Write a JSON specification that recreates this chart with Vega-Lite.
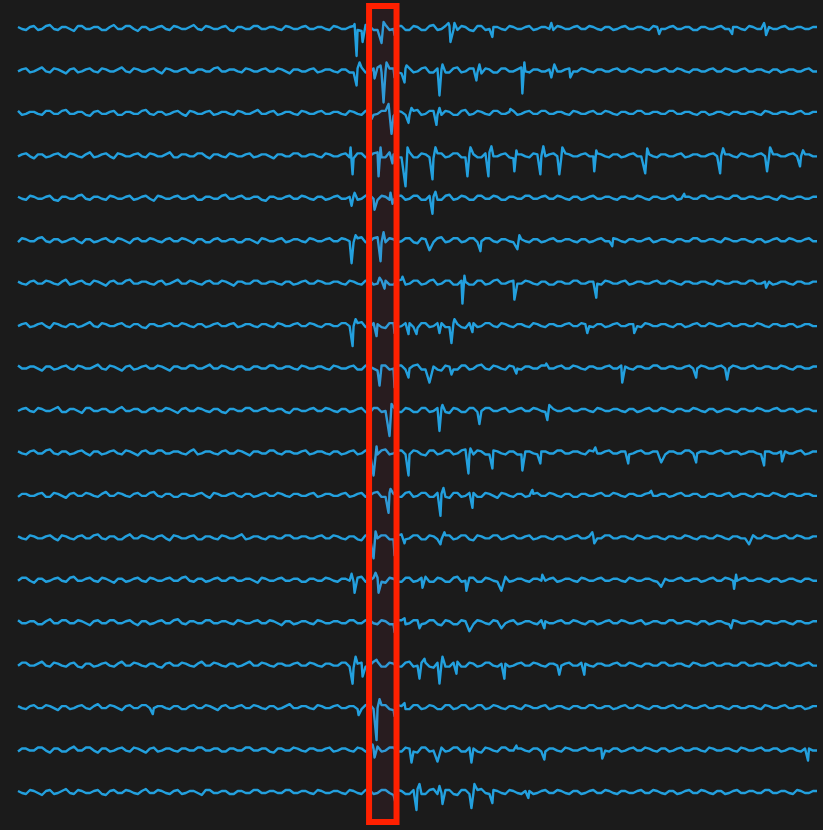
{
"$schema":"https://vega.github.io/schema/vega-lite/v6.json",
"width":799,"height":816,
"autosize":{"type":"none"},
"padding":{"left":18,"top":6,"right":6,"bottom":8},
"background":"#1b1b1b",
"config":{"view":{"stroke":null}},
"layer":[
{"data":{"values":[
{"t":0,"a":1,"b":-1,"c":2,"d":-1,"e":1,"f":-2,"g":1,"h":-1,"i":2,"j":-1,"k":1,"l":-2,"m":1,"n":-1,"o":2,"p":-1,"q":1,"r":-2,"s":1},
{"t":8,"a":-2,"b":2,"c":-1,"d":2,"e":-2,"f":1,"g":-2,"h":2,"i":-1,"j":2,"k":-2,"l":1,"m":-2,"n":2,"o":-1,"p":2,"q":-2,"r":1,"s":-2},
{"t":16,"a":2,"b":-1,"c":1,"d":-3,"e":1,"f":-1,"g":2,"h":-1,"i":1,"j":-2,"k":2,"l":-1,"m":1,"n":-3,"o":1,"p":-1,"q":2,"r":-1,"s":1},
{"t":24,"a":-1,"b":3,"c":-2,"d":1,"e":-1,"f":3,"g":-1,"h":2,"i":-3,"j":1,"k":-1,"l":2,"m":-1,"n":1,"o":-2,"p":3,"q":-1,"r":2,"s":-3},
{"t":32,"a":3,"b":-2,"c":2,"d":-1,"e":2,"f":-2,"g":1,"h":-3,"i":1,"j":-1,"k":3,"l":-2,"m":2,"n":-1,"o":3,"p":-2,"q":1,"r":-3,"s":2},
{"t":40,"a":-2,"b":1,"c":-1,"d":2,"e":-3,"f":1,"g":-2,"h":1,"i":-1,"j":3,"k":-2,"l":1,"m":-3,"n":2,"o":-1,"p":1,"q":-3,"r":1,"s":-1},
{"t":48,"a":1,"b":-3,"c":3,"d":-2,"e":1,"f":-1,"g":3,"h":-2,"i":2,"j":-2,"k":1,"l":-3,"m":1,"n":-2,"o":2,"p":-2,"q":1,"r":-2,"s":3},
{"t":56,"a":-3,"b":2,"c":-1,"d":1,"e":-1,"f":2,"g":-1,"h":1,"i":-2,"j":1,"k":-1,"l":2,"m":-2,"n":3,"o":-1,"p":2,"q":-1,"r":3,"s":-2},
{"t":64,"a":2,"b":-1,"c":1,"d":-2,"e":3,"f":-3,"g":2,"h":-1,"i":1,"j":-3,"k":2,"l":-1,"m":2,"n":-1,"o":1,"p":-3,"q":2,"r":-1,"s":1},
{"t":72,"a":-1,"b":2,"c":-3,"d":3,"e":-2,"f":1,"g":-2,"h":3,"i":-1,"j":2,"k":-3,"l":1,"m":-1,"n":2,"o":-3,"p":1,"q":-2,"r":2,"s":-1},
{"t":80,"a":1,"b":-2,"c":2,"d":-1,"e":1,"f":-1,"g":1,"h":-2,"i":3,"j":-1,"k":1,"l":-2,"m":3,"n":-2,"o":2,"p":-1,"q":3,"r":-3,"s":2},
{"t":88,"a":-2,"b":1,"c":-1,"d":2,"e":-2,"f":2,"g":-3,"h":1,"i":-2,"j":1,"k":-1,"l":3,"m":-2,"n":1,"o":-1,"p":2,"q":-1,"r":1,"s":-3},
{"t":96,"a":3,"b":-1,"c":2,"d":-3,"e":1,"f":-2,"g":2,"h":-1,"i":1,"j":-2,"k":2,"l":-1,"m":1,"n":-3,"o":2,"p":-2,"q":1,"r":-1,"s":2},
{"t":104,"a":-1,"b":3,"c":-2,"d":1,"e":-1,"f":1,"g":-1,"h":2,"i":-3,"j":3,"k":-2,"l":1,"m":-2,"n":1,"o":-1,"p":3,"q":-3,"r":2,"s":-1},
{"t":112,"a":2,"b":-2,"c":1,"d":-1,"e":2,"f":-3,"g":3,"h":-2,"i":2,"j":-1,"k":1,"l":-2,"m":3,"n":-1,"o":2,"p":-1,"q":2,"r":-2,"s":1},
{"t":120,"a":-3,"b":1,"c":-1,"d":2,"e":-1,"f":2,"g":-1,"h":1,"i":-1,"j":1,"k":-3,"l":2,"m":-1,"n":2,"o":-3,"p":1,"q":-1,"r":1,"s":-2},
{"t":128,"a":1,"b":-1,"c":3,"d":-2,"e":2,"f":-1,"g":1,"h":-3,"i":2,"j":-2,"k":2,"l":-1,"m":1,"n":-2,"o":1,"p":-2,"q":2,"r":-3,"s":3},
{"t":136,"a":-1,"b":2,"c":-2,"d":1,"e":-3,"f":1,"g":-2,"h":1,"i":-1,"j":2,"k":-1,"l":3,"m":-2,"n":1,"o":-1,"p":1,"q":-1,"r":2,"s":-1},
{"t":144,"a":2,"b":-3,"c":1,"d":-1,"e":1,"f":-2,"g":2,"h":-1,"i":1,"j":-1,"k":2,"l":-2,"m":2,"n":-1,"o":2,"p":-3,"q":1,"r":-1,"s":1},
{"t":152,"a":-2,"b":1,"c":-1,"d":3,"e":-1,"f":2,"g":-1,"h":2,"i":-3,"j":1,"k":-1,"l":1,"m":-3,"n":2,"o":-1,"p":2,"q":-2,"r":1,"s":-2},
{"t":160,"a":1,"b":-1,"c":2,"d":-2,"e":2,"f":-1,"g":3,"h":-1,"i":1,"j":-3,"k":1,"l":-2,"m":1,"n":-1,"o":3,"p":-1,"q":1,"r":-2,"s":2},
{"t":168,"a":-1,"b":2,"c":-3,"d":1,"e":-1,"f":1,"g":-1,"h":1,"i":-1,"j":2,"k":-2,"l":1,"m":-1,"n":3,"o":-2,"p":1,"q":-2,"r":1,"s":-1},
{"t":176,"a":3,"b":-2,"c":1,"d":-1,"e":2,"f":-3,"g":1,"h":-2,"i":2,"j":-1,"k":3,"l":-1,"m":2,"n":-2,"o":1,"p":-2,"q":2,"r":-1,"s":1},
{"t":184,"a":-2,"b":1,"c":-1,"d":2,"e":-2,"f":1,"g":-2,"h":1,"i":-1,"j":1,"k":-1,"l":2,"m":-2,"n":1,"o":-1,"p":3,"q":-1,"r":2,"s":-3},
{"t":192,"a":1,"b":-1,"c":2,"d":-3,"e":1,"f":-2,"g":2,"h":-1,"i":3,"j":-2,"k":1,"l":-3,"m":1,"n":-1,"o":2,"p":-1,"q":1,"r":-1,"s":2},
{"t":200,"a":-1,"b":3,"c":-1,"d":1,"e":-1,"f":2,"g":-1,"h":2,"i":-1,"j":1,"k":-2,"l":1,"m":-2,"n":2,"o":-1,"p":1,"q":-3,"r":1,"s":-1},
{"t":208,"a":2,"b":-1,"c":1,"d":-2,"e":3,"f":-1,"g":1,"h":-1,"i":1,"j":-3,"k":2,"l":-1,"m":1,"n":-1,"o":1,"p":-2,"q":2,"r":-2,"s":1},
{"t":216,"a":-3,"b":1,"c":-2,"d":1,"e":-1,"f":1,"g":-3,"h":2,"i":-2,"j":1,"k":-1,"l":2,"m":-1,"n":2,"o":-2,"p":1,"q":-1,"r":1,"s":-2},
{"t":224,"a":1,"b":-2,"c":1,"d":-1,"e":2,"f":-2,"g":1,"h":-1,"i":1,"j":-1,"k":1,"l":-2,"m":3,"n":-1,"o":1,"p":-1,"q":2,"r":-1,"s":1},
{"t":232,"a":-1,"b":1,"c":-1,"d":2,"e":-1,"f":1,"g":-1,"h":1,"i":-2,"j":2,"k":-3,"l":1,"m":-1,"n":1,"o":-1,"p":3,"q":-1,"r":2,"s":-1},
{"t":240,"a":2,"b":-1,"c":3,"d":-1,"e":1,"f":-3,"g":2,"h":-2,"i":1,"j":-1,"k":1,"l":-1,"m":1,"n":-3,"o":2,"p":-1,"q":1,"r":-1,"s":2},
{"t":248,"a":-1,"b":2,"c":-1,"d":1,"e":-3,"f":1,"g":-1,"h":1,"i":-1,"j":2,"k":-1,"l":2,"m":-2,"n":1,"o":-1,"p":1,"q":-2,"r":1,"s":-1},
{"t":256,"a":1,"b":-1,"c":2,"d":-3,"e":1,"f":-1,"g":1,"h":-2,"i":2,"j":-1,"k":2,"l":-1,"m":1,"n":-1,"o":1,"p":-2,"q":1,"r":-3,"s":1},
{"t":264,"a":-2,"b":1,"c":-1,"d":1,"e":-1,"f":2,"g":-2,"h":1,"i":-1,"j":1,"k":-2,"l":1,"m":-1,"n":2,"o":-3,"p":1,"q":-1,"r":1,"s":-1},
{"t":272,"a":1,"b":-3,"c":1,"d":-1,"e":2,"f":-1,"g":1,"h":-1,"i":1,"j":-3,"k":1,"l":-2,"m":2,"n":-1,"o":1,"p":-1,"q":3,"r":-1,"s":2},
{"t":280,"a":-1,"b":1,"c":-2,"d":2,"e":-1,"f":1,"g":-1,"h":2,"i":-2,"j":1,"k":-1,"l":1,"m":-1,"n":1,"o":-1,"p":2,"q":-1,"r":1,"s":-1},
{"t":288,"a":2,"b":-1,"c":1,"d":-1,"e":1,"f":-2,"g":2,"h":-1,"i":1,"j":-1,"k":2,"l":-1,"m":1,"n":-2,"o":1,"p":-1,"q":1,"r":-2,"s":1},
{"t":296,"a":-1,"b":2,"c":-1,"d":1,"e":-2,"f":1,"g":-1,"h":1,"i":-1,"j":2,"k":-1,"l":2,"m":-1,"n":1,"o":-2,"p":1,"q":-2,"r":1,"s":-2},
{"t":304,"a":1,"b":-1,"c":2,"d":-2,"e":1,"f":-1,"g":1,"h":-2,"i":1,"j":-1,"k":1,"l":-1,"m":2,"n":-1,"o":1,"p":-2,"q":1,"r":-1,"s":1},
{"t":312,"a":-2,"b":1,"c":-1,"d":1,"e":-1,"f":2,"g":-1,"h":1,"i":-2,"j":1,"k":-2,"l":1,"m":-1,"n":1,"o":-1,"p":1,"q":-1,"r":2,"s":-1},
{"t":320,"a":1,"b":-2,"c":1,"d":-1,"e":2,"f":-1,"g":1,"h":-1,"i":1,"j":-2,"k":1,"l":-1,"m":1,"n":-2,"o":1,"p":-1,"q":2,"r":-1,"s":1},
{"t":328,"a":-1,"b":1,"c":-2,"d":2,"e":-1,"f":1,"g":-2,"h":2,"i":-1,"j":1,"k":-1,"l":2,"m":-2,"n":1,"o":-1,"p":2,"q":-1,"r":1,"s":-2},
{"t":336,"a":2,"b":-2,"c":1,"d":-3,"e":2,"f":-2,"g":1,"h":-1,"i":2,"j":-1,"k":2,"l":-1,"m":1,"n":-2,"o":2,"p":-3,"q":1,"r":-2,"s":1},
{"t":344,"a":-3,"b":3,"c":-2,"d":2,"e":-1,"f":3,"g":-2,"h":3,"i":-2,"j":2,"k":-1,"l":2,"m":-3,"n":3,"o":-1,"p":2,"q":-2,"r":1,"s":-2},
{"t":352,"a":2,"b":-2,"c":3,"d":-1,"e":3,"f":-2,"g":2,"h":-2,"i":1,"j":-3,"k":2,"l":-1,"m":2,"n":-1,"o":2,"p":-1,"q":3,"r":-2,"s":2},
{"t":360,"a":-2,"b":3,"c":-1,"d":3,"e":-2,"f":3,"g":-1,"h":1,"i":-3,"j":2,"k":-2,"l":3,"m":-1,"n":2,"o":-2,"p":3,"q":-1,"r":3,"s":-1},
{"t":368,"a":3,"b":-1,"c":2,"d":-2,"e":1,"f":-2,"g":2,"h":-3,"i":2,"j":-1,"k":3,"l":-2,"m":2,"n":-3,"o":1,"p":-2,"q":2,"r":-1,"s":2},
{"t":376,"a":-1,"b":2,"c":-3,"d":1,"e":-2,"f":1,"g":-2,"h":2,"i":-1,"j":3,"k":-1,"l":1,"m":-2,"n":1,"o":-2,"p":1,"q":-3,"r":2,"s":-3},
{"t":384,"a":2,"b":-3,"c":1,"d":-2,"e":2,"f":-1,"g":3,"h":-1,"i":2,"j":-2,"k":2,"l":-2,"m":3,"n":-2,"o":2,"p":-2,"q":1,"r":-2,"s":1},
{"t":392,"a":-2,"b":2,"c":-2,"d":3,"e":-1,"f":2,"g":-1,"h":2,"i":-1,"j":1,"k":-2,"l":3,"m":-1,"n":2,"o":-1,"p":3,"q":-2,"r":1,"s":-2},
{"t":400,"a":1,"b":-1,"c":3,"d":-2,"e":2,"f":-3,"g":2,"h":-3,"i":3,"j":-2,"k":1,"l":-1,"m":2,"n":-1,"o":2,"p":-1,"q":2,"r":-3,"s":3},
{"t":408,"a":-2,"b":3,"c":-1,"d":1,"e":-2,"f":1,"g":-1,"h":2,"i":-2,"j":2,"k":-3,"l":2,"m":-2,"n":3,"o":-1,"p":2,"q":-1,"r":2,"s":-2},
{"t":416,"a":3,"b":-2,"c":2,"d":-3,"e":1,"f":-2,"g":3,"h":-1,"i":1,"j":-1,"k":2,"l":-2,"m":1,"n":-2,"o":2,"p":-3,"q":1,"r":-1,"s":3},
{"t":424,"a":-1,"b":1,"c":-2,"d":2,"e":-2,"f":3,"g":-1,"h":2,"i":-3,"j":2,"k":-1,"l":1,"m":-2,"n":1,"o":-3,"p":1,"q":-2,"r":2,"s":-1},
{"t":432,"a":2,"b":-2,"c":1,"d":-1,"e":3,"f":-1,"g":2,"h":-2,"i":1,"j":-3,"k":2,"l":-3,"m":2,"n":-2,"o":1,"p":-2,"q":2,"r":-1,"s":2},
{"t":440,"a":-2,"b":3,"c":-2,"d":2,"e":-1,"f":2,"g":-2,"h":1,"i":-2,"j":1,"k":-1,"l":2,"m":-1,"n":3,"o":-2,"p":3,"q":-1,"r":2,"s":-3},
{"t":448,"a":1,"b":-1,"c":3,"d":-2,"e":1,"f":-1,"g":1,"h":-3,"i":2,"j":-2,"k":3,"l":-1,"m":2,"n":-1,"o":1,"p":-2,"q":2,"r":-2,"s":2},
{"t":456,"a":-3,"b":2,"c":-1,"d":1,"e":-2,"f":2,"g":-2,"h":2,"i":-1,"j":2,"k":-2,"l":2,"m":-3,"n":2,"o":-2,"p":1,"q":-1,"r":1,"s":-1},
{"t":464,"a":2,"b":-3,"c":1,"d":-2,"e":2,"f":-1,"g":2,"h":-1,"i":3,"j":-1,"k":1,"l":-2,"m":1,"n":-2,"o":1,"p":-1,"q":2,"r":-3,"s":3},
{"t":472,"a":-1,"b":1,"c":-2,"d":3,"e":-1,"f":2,"g":-1,"h":2,"i":-2,"j":2,"k":-2,"l":1,"m":-1,"n":1,"o":-2,"p":2,"q":-1,"r":1,"s":-2},
{"t":480,"a":1,"b":-2,"c":2,"d":-1,"e":1,"f":-2,"g":3,"h":-2,"i":1,"j":-1,"k":1,"l":-3,"m":2,"n":-2,"o":1,"p":-2,"q":1,"r":-2,"s":1},
{"t":488,"a":-2,"b":2,"c":-1,"d":2,"e":-2,"f":1,"g":-1,"h":1,"i":-2,"j":2,"k":-2,"l":1,"m":-1,"n":3,"o":-1,"p":1,"q":-2,"r":2,"s":-2},
{"t":496,"a":1,"b":-1,"c":2,"d":-3,"e":1,"f":-2,"g":2,"h":-2,"i":1,"j":-1,"k":1,"l":-2,"m":2,"n":-1,"o":2,"p":-1,"q":1,"r":-1,"s":1},
{"t":504,"a":-1,"b":3,"c":-1,"d":1,"e":-1,"f":1,"g":-1,"h":1,"i":-2,"j":2,"k":-2,"l":1,"m":-1,"n":1,"o":-1,"p":2,"q":-2,"r":1,"s":-2},
{"t":512,"a":2,"b":-2,"c":2,"d":-2,"e":2,"f":-2,"g":1,"h":-2,"i":1,"j":-1,"k":1,"l":-1,"m":2,"n":-2,"o":1,"p":-1,"q":1,"r":-2,"s":1},
{"t":520,"a":-1,"b":1,"c":-1,"d":1,"e":-1,"f":1,"g":-2,"h":1,"i":-1,"j":1,"k":-2,"l":2,"m":-1,"n":1,"o":-2,"p":1,"q":-1,"r":1,"s":-1},
{"t":528,"a":1,"b":-1,"c":2,"d":-1,"e":2,"f":-1,"g":1,"h":-2,"i":2,"j":-2,"k":1,"l":-1,"m":1,"n":-1,"o":1,"p":-2,"q":2,"r":-2,"s":2},
{"t":536,"a":-2,"b":2,"c":-1,"d":2,"e":-1,"f":2,"g":-2,"h":1,"i":-1,"j":1,"k":-1,"l":1,"m":-2,"n":2,"o":-1,"p":1,"q":-1,"r":1,"s":-1},
{"t":544,"a":1,"b":-1,"c":1,"d":-2,"e":1,"f":-1,"g":1,"h":-1,"i":2,"j":-1,"k":2,"l":-2,"m":1,"n":-1,"o":2,"p":-1,"q":1,"r":-2,"s":1},
{"t":552,"a":-1,"b":2,"c":-2,"d":1,"e":-2,"f":1,"g":-1,"h":2,"i":-1,"j":2,"k":-1,"l":1,"m":-1,"n":1,"o":-1,"p":2,"q":-2,"r":1,"s":-2},
{"t":560,"a":2,"b":-1,"c":1,"d":-1,"e":1,"f":-2,"g":2,"h":-1,"i":1,"j":-1,"k":1,"l":-2,"m":2,"n":-2,"o":1,"p":-1,"q":1,"r":-1,"s":1},
{"t":568,"a":-1,"b":1,"c":-1,"d":2,"e":-1,"f":1,"g":-1,"h":1,"i":-2,"j":1,"k":-2,"l":1,"m":-1,"n":1,"o":-2,"p":1,"q":-1,"r":2,"s":-1},
{"t":576,"a":1,"b":-2,"c":2,"d":-1,"e":2,"f":-1,"g":1,"h":-2,"i":1,"j":-2,"k":1,"l":-1,"m":1,"n":-1,"o":1,"p":-2,"q":2,"r":-1,"s":2},
{"t":584,"a":-2,"b":1,"c":-1,"d":1,"e":-1,"f":2,"g":-2,"h":1,"i":-1,"j":1,"k":-1,"l":2,"m":-1,"n":2,"o":-1,"p":1,"q":-1,"r":1,"s":-1},
{"t":592,"a":1,"b":-1,"c":1,"d":-2,"e":1,"f":-1,"g":1,"h":-1,"i":2,"j":-1,"k":2,"l":-1,"m":2,"n":-1,"o":2,"p":-1,"q":1,"r":-2,"s":1},
{"t":600,"a":-1,"b":2,"c":-2,"d":1,"e":-2,"f":1,"g":-1,"h":2,"i":-1,"j":1,"k":-1,"l":1,"m":-1,"n":1,"o":-1,"p":2,"q":-1,"r":1,"s":-2},
{"t":608,"a":2,"b":-1,"c":1,"d":-1,"e":1,"f":-2,"g":2,"h":-1,"i":1,"j":-2,"k":1,"l":-2,"m":1,"n":-2,"o":1,"p":-1,"q":2,"r":-1,"s":1},
{"t":616,"a":-1,"b":1,"c":-1,"d":2,"e":-1,"f":1,"g":-1,"h":1,"i":-2,"j":1,"k":-1,"l":1,"m":-2,"n":1,"o":-1,"p":1,"q":-1,"r":2,"s":-1},
{"t":624,"a":1,"b":-2,"c":2,"d":-1,"e":1,"f":-1,"g":1,"h":-2,"i":1,"j":-1,"k":2,"l":-1,"m":1,"n":-1,"o":2,"p":-2,"q":1,"r":-1,"s":2},
{"t":632,"a":-2,"b":1,"c":-1,"d":1,"e":-2,"f":2,"g":-1,"h":1,"i":-1,"j":2,"k":-1,"l":2,"m":-1,"n":1,"o":-1,"p":1,"q":-2,"r":1,"s":-1},
{"t":640,"a":1,"b":-1,"c":1,"d":-2,"e":1,"f":-1,"g":2,"h":-1,"i":2,"j":-1,"k":1,"l":-1,"m":1,"n":-2,"o":1,"p":-1,"q":1,"r":-2,"s":1},
{"t":648,"a":-1,"b":2,"c":-1,"d":1,"e":-1,"f":1,"g":-1,"h":1,"i":-1,"j":1,"k":-2,"l":1,"m":-2,"n":1,"o":-1,"p":2,"q":-1,"r":1,"s":-2},
{"t":656,"a":2,"b":-1,"c":2,"d":-1,"e":2,"f":-2,"g":1,"h":-2,"i":1,"j":-2,"k":1,"l":-1,"m":1,"n":-1,"o":2,"p":-1,"q":2,"r":-1,"s":1},
{"t":664,"a":-1,"b":1,"c":-1,"d":2,"e":-1,"f":1,"g":-2,"h":1,"i":-1,"j":1,"k":-1,"l":2,"m":-1,"n":2,"o":-1,"p":1,"q":-1,"r":2,"s":-1},
{"t":672,"a":1,"b":-2,"c":1,"d":-1,"e":1,"f":-1,"g":1,"h":-1,"i":2,"j":-1,"k":2,"l":-1,"m":1,"n":-1,"o":1,"p":-2,"q":1,"r":-1,"s":2},
{"t":680,"a":-2,"b":1,"c":-2,"d":1,"e":-1,"f":2,"g":-1,"h":2,"i":-1,"j":1,"k":-1,"l":1,"m":-2,"n":1,"o":-2,"p":1,"q":-1,"r":1,"s":-1},
{"t":688,"a":1,"b":-1,"c":1,"d":-1,"e":2,"f":-1,"g":1,"h":-1,"i":1,"j":-2,"k":1,"l":-2,"m":1,"n":-1,"o":1,"p":-1,"q":2,"r":-2,"s":1},
{"t":696,"a":-1,"b":2,"c":-1,"d":2,"e":-1,"f":1,"g":-2,"h":1,"i":-1,"j":1,"k":-1,"l":1,"m":-1,"n":2,"o":-1,"p":2,"q":-1,"r":1,"s":-2},
{"t":704,"a":2,"b":-1,"c":1,"d":-1,"e":1,"f":-2,"g":1,"h":-1,"i":2,"j":-1,"k":2,"l":-1,"m":1,"n":-1,"o":1,"p":-1,"q":1,"r":-1,"s":1},
{"t":712,"a":-1,"b":1,"c":-2,"d":1,"e":-1,"f":1,"g":-1,"h":2,"i":-1,"j":1,"k":-1,"l":2,"m":-2,"n":1,"o":-2,"p":1,"q":-2,"r":1,"s":-1},
{"t":720,"a":1,"b":-1,"c":1,"d":-2,"e":2,"f":-1,"g":1,"h":-1,"i":1,"j":-2,"k":1,"l":-1,"m":1,"n":-1,"o":1,"p":-1,"q":1,"r":-2,"s":2},
{"t":728,"a":-2,"b":2,"c":-1,"d":1,"e":-1,"f":1,"g":-1,"h":1,"i":-1,"j":1,"k":-1,"l":1,"m":-1,"n":2,"o":-1,"p":2,"q":-1,"r":1,"s":-1},
{"t":736,"a":1,"b":-1,"c":1,"d":-1,"e":1,"f":-2,"g":2,"h":-1,"i":2,"j":-1,"k":1,"l":-2,"m":2,"n":-1,"o":1,"p":-1,"q":1,"r":-1,"s":1},
{"t":744,"a":-1,"b":1,"c":-2,"d":2,"e":-1,"f":1,"g":-1,"h":1,"i":-1,"j":1,"k":-2,"l":1,"m":-1,"n":1,"o":-2,"p":1,"q":-2,"r":2,"s":-1},
{"t":752,"a":1,"b":-2,"c":1,"d":-1,"e":1,"f":-1,"g":1,"h":-2,"i":1,"j":-1,"k":1,"l":-1,"m":1,"n":-2,"o":1,"p":-1,"q":1,"r":-1,"s":2},
{"t":760,"a":-1,"b":1,"c":-1,"d":1,"e":-2,"f":2,"g":-1,"h":1,"i":-1,"j":2,"k":-1,"l":1,"m":-1,"n":1,"o":-1,"p":2,"q":-1,"r":1,"s":-1},
{"t":768,"a":2,"b":-1,"c":1,"d":-1,"e":1,"f":-1,"g":1,"h":-1,"i":1,"j":-1,"k":1,"l":-2,"m":2,"n":-1,"o":1,"p":-1,"q":2,"r":-1,"s":1},
{"t":776,"a":-1,"b":1,"c":-1,"d":2,"e":-1,"f":1,"g":-2,"h":1,"i":-2,"j":1,"k":-1,"l":1,"m":-1,"n":1,"o":-2,"p":1,"q":-1,"r":1,"s":-2},
{"t":784,"a":1,"b":-1,"c":2,"d":-1,"e":1,"f":-1,"g":1,"h":-1,"i":1,"j":-1,"k":2,"l":-1,"m":1,"n":-2,"o":1,"p":-1,"q":1,"r":-2,"s":1},
{"t":792,"a":-1,"b":2,"c":-1,"d":1,"e":-1,"f":2,"g":-1,"h":1,"i":-1,"j":1,"k":-1,"l":1,"m":-1,"n":1,"o":-1,"p":2,"q":-1,"r":1,"s":-1},
{"t":800,"a":1,"b":-1,"c":1,"d":-1,"e":1,"f":-1,"g":1,"h":-1,"i":1,"j":-1,"k":1,"l":-1,"m":1,"n":-1,"o":1,"p":-1,"q":1,"r":-1,"s":1},
{"t":4,"a":-1,"b":1,"c":-2,"d":1,"e":-1,"f":2,"g":-1,"h":1,"i":-1,"j":1,"k":-1,"l":1,"m":-1,"n":2,"o":-1,"p":2,"q":-1,"r":1,"s":-1},
{"t":12,"a":1,"b":-2,"c":1,"d":-1,"e":2,"f":-1,"g":1,"h":-2,"i":1,"j":-1,"k":1,"l":-1,"m":2,"n":-1,"o":1,"p":-1,"q":1,"r":-1,"s":2},
{"t":20,"a":-2,"b":1,"c":-1,"d":1,"e":-1,"f":2,"g":-1,"h":1,"i":-1,"j":2,"k":-1,"l":1,"m":-1,"n":1,"o":-2,"p":1,"q":-1,"r":2,"s":-1},
{"t":28,"a":2,"b":-1,"c":2,"d":-2,"e":1,"f":-1,"g":2,"h":-1,"i":1,"j":-1,"k":2,"l":-2,"m":1,"n":-2,"o":1,"p":-1,"q":2,"r":-1,"s":1},
{"t":36,"a":-1,"b":2,"c":-1,"d":1,"e":-2,"f":1,"g":-1,"h":2,"i":-2,"j":1,"k":-1,"l":2,"m":-1,"n":1,"o":-1,"p":2,"q":-1,"r":1,"s":-2},
{"t":44,"a":1,"b":-1,"c":2,"d":-1,"e":1,"f":-2,"g":1,"h":-1,"i":1,"j":-2,"k":1,"l":-1,"m":2,"n":-1,"o":2,"p":-1,"q":1,"r":-2,"s":1},
{"t":52,"a":-1,"b":1,"c":-1,"d":2,"e":-1,"f":1,"g":-2,"h":1,"i":-1,"j":1,"k":-2,"l":1,"m":-1,"n":2,"o":-1,"p":1,"q":-2,"r":1,"s":-1},
{"t":60,"a":2,"b":-2,"c":1,"d":-1,"e":2,"f":-1,"g":1,"h":-2,"i":2,"j":-1,"k":1,"l":-1,"m":1,"n":-1,"o":2,"p":-2,"q":1,"r":-1,"s":2},
{"t":68,"a":-1,"b":1,"c":-2,"d":1,"e":-1,"f":1,"g":-1,"h":1,"i":-1,"j":2,"k":-1,"l":2,"m":-1,"n":1,"o":-1,"p":1,"q":-1,"r":2,"s":-1},
{"t":76,"a":1,"b":-1,"c":1,"d":-2,"e":1,"f":-2,"g":2,"h":-1,"i":1,"j":-1,"k":1,"l":-1,"m":2,"n":-1,"o":1,"p":-2,"q":1,"r":-1,"s":1},
{"t":84,"a":-2,"b":2,"c":-1,"d":1,"e":-1,"f":1,"g":-1,"h":2,"i":-1,"j":1,"k":-2,"l":1,"m":-1,"n":2,"o":-1,"p":1,"q":-1,"r":1,"s":-2},
{"t":92,"a":1,"b":-1,"c":1,"d":-1,"e":2,"f":-1,"g":1,"h":-1,"i":2,"j":-2,"k":1,"l":-1,"m":1,"n":-1,"o":2,"p":-1,"q":2,"r":-2,"s":1},
{"t":100,"a":-1,"b":1,"c":-2,"d":2,"e":-1,"f":2,"g":-1,"h":1,"i":-1,"j":1,"k":-1,"l":2,"m":-2,"n":1,"o":-1,"p":1,"q":-1,"r":1,"s":-1},
{"t":108,"a":2,"b":-1,"c":1,"d":-1,"e":1,"f":-1,"g":2,"h":-1,"i":1,"j":-1,"k":2,"l":-1,"m":1,"n":-2,"o":1,"p":-1,"q":1,"r":-1,"s":2},
{"t":116,"a":-1,"b":2,"c":-1,"d":1,"e":-2,"f":1,"g":-1,"h":1,"i":-2,"j":1,"k":-1,"l":1,"m":-1,"n":1,"o":-1,"p":2,"q":-1,"r":2,"s":-1},
{"t":124,"a":1,"b":-1,"c":2,"d":-1,"e":1,"f":-1,"g":1,"h":-2,"i":1,"j":-2,"k":1,"l":-1,"m":2,"n":-1,"o":1,"p":-1,"q":2,"r":-1,"s":1},
{"t":132,"a":-2,"b":1,"c":-1,"d":2,"e":-1,"f":2,"g":-1,"h":1,"i":-1,"j":1,"k":-1,"l":2,"m":-1,"n":2,"o":-2,"p":1,"q":-1,"r":1,"s":-1},
{"t":140,"a":1,"b":-1,"c":1,"d":-1,"e":2,"f":-1,"g":1,"h":-1,"i":2,"j":-1,"k":2,"l":-1,"m":1,"n":-1,"o":1,"p":-2,"q":1,"r":-2,"s":2},
{"t":148,"a":-1,"b":2,"c":-2,"d":1,"e":-1,"f":1,"g":-2,"h":1,"i":-1,"j":2,"k":-1,"l":1,"m":-1,"n":1,"o":-1,"p":1,"q":-1,"r":1,"s":-1},
{"t":156,"a":2,"b":-1,"c":1,"d":-2,"e":1,"f":-1,"g":1,"h":-1,"i":1,"j":-1,"k":1,"l":-2,"m":2,"n":-1,"o":2,"p":-1,"q":1,"r":-1,"s":1},
{"t":164,"a":-1,"b":1,"c":-1,"d":1,"e":-1,"f":2,"g":-1,"h":2,"i":-1,"j":1,"k":-1,"l":1,"m":-1,"n":2,"o":-1,"p":2,"q":-2,"r":1,"s":-2},
{"t":172,"a":1,"b":-2,"c":2,"d":-1,"e":1,"f":-1,"g":2,"h":-1,"i":2,"j":-1,"k":1,"l":-1,"m":1,"n":-1,"o":1,"p":-1,"q":1,"r":-1,"s":1},
{"t":180,"a":-1,"b":1,"c":-1,"d":2,"e":-2,"f":1,"g":-1,"h":1,"i":-1,"j":2,"k":-2,"l":1,"m":-2,"n":1,"o":-1,"p":1,"q":-1,"r":2,"s":-1},
{"t":188,"a":2,"b":-1,"c":1,"d":-1,"e":1,"f":-2,"g":1,"h":-2,"i":1,"j":-1,"k":1,"l":-1,"m":1,"n":-2,"o":2,"p":-1,"q":2,"r":-1,"s":2},
{"t":196,"a":-1,"b":2,"c":-2,"d":1,"e":-1,"f":1,"g":-1,"h":1,"i":-1,"j":1,"k":-1,"l":2,"m":-1,"n":1,"o":-1,"p":2,"q":-1,"r":1,"s":-1},
{"t":204,"a":1,"b":-1,"c":1,"d":-1,"e":2,"f":-1,"g":2,"h":-1,"i":2,"j":-2,"k":1,"l":-1,"m":2,"n":-1,"o":1,"p":-1,"q":1,"r":-2,"s":1},
{"t":212,"a":-2,"b":1,"c":-1,"d":2,"e":-1,"f":1,"g":-1,"h":1,"i":-1,"j":1,"k":-1,"l":1,"m":-1,"n":2,"o":-1,"p":1,"q":-1,"r":1,"s":-2},
{"t":220,"a":1,"b":-1,"c":2,"d":-1,"e":1,"f":-2,"g":1,"h":-2,"i":1,"j":-1,"k":2,"l":-1,"m":1,"n":-1,"o":2,"p":-2,"q":1,"r":-1,"s":1},
{"t":228,"a":-1,"b":2,"c":-1,"d":1,"e":-1,"f":1,"g":-1,"h":1,"i":-2,"j":2,"k":-1,"l":1,"m":-2,"n":1,"o":-1,"p":1,"q":-1,"r":2,"s":-1},
{"t":236,"a":2,"b":-1,"c":1,"d":-2,"e":1,"f":-1,"g":2,"h":-1,"i":1,"j":-1,"k":1,"l":-2,"m":1,"n":-1,"o":1,"p":-1,"q":2,"r":-1,"s":2},
{"t":244,"a":-1,"b":1,"c":-1,"d":1,"e":-2,"f":2,"g":-1,"h":1,"i":-1,"j":1,"k":-1,"l":1,"m":-1,"n":2,"o":-1,"p":2,"q":-1,"r":1,"s":-1},
{"t":252,"a":1,"b":-1,"c":1,"d":-1,"e":1,"f":-1,"g":1,"h":-1,"i":2,"j":-1,"k":2,"l":-1,"m":1,"n":-1,"o":2,"p":-1,"q":1,"r":-2,"s":1},
{"t":260,"a":-1,"b":2,"c":-2,"d":1,"e":-1,"f":1,"g":-1,"h":2,"i":-1,"j":1,"k":-1,"l":2,"m":-1,"n":1,"o":-1,"p":1,"q":-2,"r":1,"s":-1},
{"t":268,"a":2,"b":-1,"c":1,"d":-1,"e":1,"f":-2,"g":1,"h":-1,"i":1,"j":-2,"k":1,"l":-1,"m":2,"n":-1,"o":1,"p":-1,"q":1,"r":-1,"s":2},
{"t":276,"a":-1,"b":1,"c":-1,"d":2,"e":-1,"f":1,"g":-2,"h":1,"i":-1,"j":1,"k":-1,"l":1,"m":-1,"n":1,"o":-2,"p":1,"q":-1,"r":2,"s":-1},
{"t":284,"a":1,"b":-1,"c":2,"d":-1,"e":2,"f":-1,"g":1,"h":-1,"i":2,"j":-1,"k":1,"l":-1,"m":1,"n":-2,"o":1,"p":-1,"q":1,"r":-1,"s":1},
{"t":292,"a":-1,"b":1,"c":-1,"d":1,"e":-1,"f":2,"g":-1,"h":2,"i":-1,"j":1,"k":-2,"l":1,"m":-1,"n":1,"o":-1,"p":2,"q":-1,"r":1,"s":-1},
{"t":300,"a":1,"b":-2,"c":1,"d":-1,"e":1,"f":-1,"g":2,"h":-1,"i":1,"j":-1,"k":1,"l":-2,"m":1,"n":-1,"o":2,"p":-1,"q":2,"r":-1,"s":2},
{"t":308,"a":-1,"b":1,"c":-1,"d":2,"e":-2,"f":1,"g":-1,"h":1,"i":-1,"j":2,"k":-1,"l":1,"m":-1,"n":2,"o":-1,"p":1,"q":-1,"r":1,"s":-1},
{"t":316,"a":2,"b":-1,"c":1,"d":-1,"e":1,"f":-1,"g":1,"h":-1,"i":2,"j":-1,"k":1,"l":-1,"m":2,"n":-1,"o":1,"p":-1,"q":1,"r":-2,"s":1},
{"t":324,"a":-1,"b":1,"c":-1,"d":1,"e":-1,"f":2,"g":-1,"h":2,"i":-1,"j":1,"k":-2,"l":1,"m":-1,"n":1,"o":-1,"p":2,"q":-1,"r":1,"s":-1},
{"t":332,"a":1,"b":-2,"c":2,"d":-2,"e":1,"f":-1,"g":2,"h":-1,"i":1,"j":-2,"k":1,"l":-2,"m":1,"n":-1,"o":2,"p":-2,"q":1,"r":-1,"s":2},
{"t":340,"a":-2,"b":2,"c":-1,"d":2,"e":-2,"f":2,"g":-1,"h":2,"i":-2,"j":1,"k":-2,"l":1,"m":-2,"n":2,"o":-1,"p":1,"q":-2,"r":2,"s":-1},
{"t":348,"a":3,"b":-2,"c":2,"d":-2,"e":2,"f":-2,"g":2,"h":-2,"i":2,"j":-2,"k":2,"l":-2,"m":2,"n":-2,"o":2,"p":-2,"q":2,"r":-2,"s":2},
{"t":356,"a":-2,"b":2,"c":-2,"d":2,"e":-1,"f":2,"g":-2,"h":2,"i":-1,"j":2,"k":-23,"l":2,"m":-21,"n":2,"o":-1,"p":3,"q":-2,"r":1,"s":-2},
{"t":364,"a":-15,"b":-2,"c":2,"d":-2,"e":2,"f":-2,"g":2,"h":-2,"i":2,"j":-2,"k":2,"l":-2,"m":2,"n":-2,"o":2,"p":-2,"q":2,"r":-2,"s":2},
{"t":372,"a":-2,"b":2,"c":-1,"d":3,"e":-2,"f":2,"g":-2,"h":2,"i":-2,"j":-26,"k":-2,"l":2,"m":-2,"n":2,"o":-2,"p":2,"q":-2,"r":2,"s":-1},
{"t":380,"a":2,"b":-2,"c":2,"d":-2,"e":2,"f":-2,"g":2,"h":-2,"i":2,"j":-2,"k":2,"l":-2,"m":2,"n":-2,"o":2,"p":-2,"q":2,"r":-2,"s":2},
{"t":388,"a":-2,"b":2,"c":-2,"d":-31,"e":-2,"f":2,"g":-2,"h":2,"i":-2,"j":2,"k":-2,"l":2,"m":-2,"n":2,"o":-2,"p":2,"q":-2,"r":2,"s":-2},
{"t":396,"a":2,"b":-2,"c":2,"d":-2,"e":2,"f":-2,"g":2,"h":-2,"i":2,"j":-2,"k":2,"l":-2,"m":2,"n":-2,"o":2,"p":-2,"q":2,"r":-2,"s":2},
{"t":404,"a":-2,"b":2,"c":-2,"d":2,"e":-2,"f":2,"g":-2,"h":2,"i":-2,"j":2,"k":-2,"l":2,"m":-2,"n":2,"o":-2,"p":2,"q":-2,"r":2,"s":-2},
{"t":412,"a":2,"b":-2,"c":2,"d":-2,"e":2,"f":-10,"g":2,"h":-2,"i":-15,"j":-2,"k":2,"l":-2,"m":2,"n":-2,"o":2,"p":-2,"q":2,"r":-2,"s":2},
{"t":420,"a":-2,"b":2,"c":-2,"d":2,"e":-2,"f":2,"g":-2,"h":2,"i":-2,"j":2,"k":-2,"l":2,"m":-2,"n":2,"o":-2,"p":2,"q":-2,"r":-12,"s":-2},
{"t":428,"a":2,"b":-2,"c":2,"d":-2,"e":2,"f":-2,"g":2,"h":-2,"i":2,"j":-2,"k":2,"l":-2,"m":2,"n":-2,"o":2,"p":-2,"q":2,"r":-2,"s":2},
{"t":436,"a":-2,"b":2,"c":-2,"d":2,"e":-2,"f":2,"g":-2,"h":2,"i":-2,"j":2,"k":-2,"l":2,"m":-2,"n":2,"o":-2,"p":2,"q":-2,"r":2,"s":-2},
{"t":444,"a":2,"b":-2,"c":2,"d":-2,"e":2,"f":-2,"g":2,"h":-2,"i":2,"j":-2,"k":2,"l":-2,"m":2,"n":-2,"o":2,"p":-2,"q":2,"r":-2,"s":2},
{"t":452,"a":-2,"b":2,"c":-2,"d":2,"e":-2,"f":2,"g":-2,"h":2,"i":-2,"j":2,"k":-2,"l":2,"m":-2,"n":2,"o":-9,"p":2,"q":-2,"r":2,"s":-2},
{"t":460,"a":2,"b":-2,"c":2,"d":-2,"e":2,"f":-2,"g":2,"h":-2,"i":2,"j":-2,"k":2,"l":-2,"m":2,"n":-2,"o":2,"p":-2,"q":2,"r":-2,"s":2},
{"t":468,"a":-2,"b":2,"c":-1,"d":2,"e":-1,"f":2,"g":-2,"h":2,"i":-1,"j":2,"k":-2,"l":2,"m":-1,"n":2,"o":-1,"p":2,"q":-2,"r":2,"s":-1},
{"t":476,"a":1,"b":-2,"c":2,"d":-1,"e":2,"f":-1,"g":2,"h":-1,"i":2,"j":-1,"k":2,"l":-1,"m":2,"n":-1,"o":2,"p":-1,"q":2,"r":-1,"s":2},
{"t":484,"a":-1,"b":2,"c":-1,"d":1,"e":-2,"f":1,"g":-1,"h":2,"i":-1,"j":1,"k":-1,"l":2,"m":-2,"n":-11,"o":-6,"p":1,"q":-1,"r":2,"s":-1},
{"t":492,"a":2,"b":-1,"c":1,"d":-2,"e":1,"f":-1,"g":1,"h":-1,"i":2,"j":-2,"k":1,"l":-1,"m":1,"n":-2,"o":1,"p":-2,"q":1,"r":-1,"s":2},
{"t":500,"a":-1,"b":1,"c":-2,"d":1,"e":-1,"f":-9,"g":-1,"h":1,"i":-1,"j":1,"k":-2,"l":1,"m":-1,"n":1,"o":-2,"p":1,"q":-1,"r":1,"s":-1},
{"t":508,"a":1,"b":-1,"c":1,"d":-1,"e":2,"f":-1,"g":2,"h":-1,"i":1,"j":-1,"k":1,"l":-2,"m":1,"n":-1,"o":1,"p":-1,"q":2,"r":-1,"s":1},
{"t":516,"a":-2,"b":1,"c":-1,"d":2,"e":-1,"f":1,"g":-1,"h":2,"i":-1,"j":2,"k":-1,"l":1,"m":-2,"n":1,"o":-1,"p":2,"q":-1,"r":1,"s":-2},
{"t":524,"a":1,"b":-1,"c":2,"d":-1,"e":1,"f":-2,"g":1,"h":-1,"i":2,"j":-1,"k":1,"l":-1,"m":1,"n":-1,"o":2,"p":-1,"q":1,"r":-2,"s":1},
{"t":532,"a":-1,"b":1,"c":-1,"d":1,"e":-1,"f":1,"g":-2,"h":1,"i":-1,"j":5,"k":-1,"l":2,"m":-1,"n":1,"o":-1,"p":1,"q":-2,"r":1,"s":-1},
{"t":540,"a":2,"b":-1,"c":1,"d":-1,"e":2,"f":-1,"g":1,"h":-1,"i":1,"j":-1,"k":2,"l":-1,"m":1,"n":-2,"o":1,"p":-1,"q":1,"r":-1,"s":2},
{"t":548,"a":-1,"b":1,"c":-1,"d":2,"e":-1,"f":1,"g":-1,"h":1,"i":-1,"j":1,"k":-1,"l":1,"m":-2,"n":1,"o":-1,"p":1,"q":-1,"r":2,"s":-1},
{"t":556,"a":1,"b":-1,"c":2,"d":-1,"e":1,"f":-1,"g":2,"h":-1,"i":2,"j":-1,"k":1,"l":-2,"m":1,"n":-1,"o":2,"p":-1,"q":1,"r":-1,"s":1},
{"t":564,"a":-1,"b":2,"c":-1,"d":1,"e":-2,"f":1,"g":-1,"h":2,"i":-1,"j":1,"k":-1,"l":1,"m":-1,"n":2,"o":-1,"p":2,"q":-1,"r":1,"s":-2},
{"t":572,"a":2,"b":-1,"c":1,"d":-1,"e":1,"f":-2,"g":1,"h":-1,"i":1,"j":-1,"k":2,"l":-1,"m":1,"n":-1,"o":1,"p":-1,"q":2,"r":-1,"s":1},
{"t":580,"a":-1,"b":1,"c":-1,"d":2,"e":-1,"f":1,"g":-1,"h":1,"i":-1,"j":2,"k":-1,"l":1,"m":-1,"n":1,"o":-2,"p":1,"q":-1,"r":1,"s":-1},
{"t":588,"a":1,"b":-1,"c":2,"d":-1,"e":1,"f":-1,"g":2,"h":-2,"i":1,"j":-1,"k":1,"l":-1,"m":2,"n":-1,"o":1,"p":-1,"q":1,"r":-1,"s":2},
{"t":596,"a":-2,"b":1,"c":-1,"d":1,"e":-1,"f":2,"g":-1,"h":1,"i":-1,"j":1,"k":-1,"l":2,"m":-1,"n":1,"o":-1,"p":1,"q":-2,"r":1,"s":-1},
{"t":604,"a":1,"b":-1,"c":1,"d":-2,"e":1,"f":-1,"g":1,"h":-1,"i":2,"j":-1,"k":1,"l":-1,"m":1,"n":-1,"o":2,"p":-1,"q":1,"r":-2,"s":1},
{"t":612,"a":-1,"b":2,"c":-1,"d":1,"e":-1,"f":1,"g":-2,"h":1,"i":-1,"j":1,"k":-2,"l":1,"m":-1,"n":2,"o":-1,"p":2,"q":-1,"r":1,"s":-1},
{"t":620,"a":1,"b":-1,"c":2,"d":-1,"e":2,"f":-1,"g":1,"h":-1,"i":1,"j":-2,"k":1,"l":-1,"m":2,"n":-1,"o":1,"p":-1,"q":2,"r":-1,"s":1},
{"t":628,"a":-1,"b":1,"c":-1,"d":-18,"e":-1,"f":1,"g":-1,"h":2,"i":-1,"j":1,"k":-1,"l":1,"m":-1,"n":1,"o":-2,"p":1,"q":-1,"r":2,"s":-1},
{"t":636,"a":2,"b":-1,"c":1,"d":-1,"e":1,"f":-2,"g":1,"h":-1,"i":2,"j":-1,"k":1,"l":-1,"m":1,"n":-1,"o":1,"p":-1,"q":1,"r":-1,"s":2},
{"t":644,"a":-1,"b":1,"c":-1,"d":1,"e":-1,"f":1,"g":-1,"h":1,"i":-1,"j":2,"k":-10,"l":1,"m":-1,"n":-7,"o":-1,"p":2,"q":-1,"r":1,"s":-1},
{"t":652,"a":1,"b":-1,"c":2,"d":-1,"e":1,"f":-1,"g":2,"h":-1,"i":1,"j":-1,"k":1,"l":-2,"m":1,"n":-1,"o":2,"p":-1,"q":1,"r":-2,"s":1},
{"t":660,"a":-1,"b":2,"c":-1,"d":1,"e":-2,"f":1,"g":-1,"h":1,"i":-1,"j":1,"k":-1,"l":1,"m":-1,"n":1,"o":-1,"p":1,"q":-1,"r":1,"s":-2},
{"t":668,"a":1,"b":-1,"c":1,"d":-2,"e":1,"f":-1,"g":1,"h":-2,"i":1,"j":-1,"k":2,"l":-1,"m":2,"n":-1,"o":1,"p":-1,"q":2,"r":-1,"s":1},
{"t":676,"a":-2,"b":1,"c":-1,"d":1,"e":-1,"f":2,"g":-1,"h":1,"i":-1,"j":2,"k":-1,"l":1,"m":-1,"n":1,"o":-1,"p":2,"q":-1,"r":1,"s":-1},
{"t":684,"a":1,"b":-1,"c":1,"d":-1,"e":2,"f":-1,"g":1,"h":-1,"i":2,"j":-1,"k":1,"l":-2,"m":1,"n":-2,"o":1,"p":-1,"q":1,"r":-1,"s":2},
{"t":692,"a":-1,"b":1,"c":-2,"d":1,"e":-1,"f":1,"g":-1,"h":2,"i":-1,"j":1,"k":-1,"l":1,"m":-1,"n":1,"o":-2,"p":1,"q":-1,"r":2,"s":-1},
{"t":700,"a":1,"b":-1,"c":1,"d":-1,"e":1,"f":-1,"g":2,"h":-1,"i":1,"j":-2,"k":1,"l":-1,"m":2,"n":-1,"o":1,"p":-1,"q":1,"r":-1,"s":1},
{"t":708,"a":-1,"b":2,"c":-1,"d":1,"e":-1,"f":2,"g":-1,"h":1,"i":-1,"j":1,"k":-1,"l":1,"m":-1,"n":2,"o":-1,"p":1,"q":-1,"r":1,"s":-2},
{"t":716,"a":1,"b":-1,"c":1,"d":-1,"e":2,"f":-1,"g":1,"h":-1,"i":2,"j":-1,"k":1,"l":-2,"m":1,"n":-1,"o":2,"p":-1,"q":1,"r":-1,"s":1},
{"t":724,"a":-1,"b":1,"c":-1,"d":2,"e":-1,"f":1,"g":-1,"h":1,"i":-1,"j":1,"k":-2,"l":1,"m":-1,"n":1,"o":-1,"p":2,"q":-1,"r":2,"s":-1},
{"t":732,"a":2,"b":-1,"c":1,"d":-1,"e":1,"f":-1,"g":2,"h":-1,"i":1,"j":-1,"k":1,"l":-1,"m":-7,"n":-1,"o":1,"p":-1,"q":1,"r":-1,"s":1},
{"t":740,"a":-1,"b":1,"c":-1,"d":1,"e":-1,"f":1,"g":-1,"h":2,"i":-1,"j":2,"k":-1,"l":1,"m":-1,"n":1,"o":-1,"p":1,"q":-1,"r":1,"s":-1},
{"t":748,"a":1,"b":-1,"c":2,"d":-1,"e":1,"f":-2,"g":1,"h":-1,"i":1,"j":-1,"k":1,"l":-1,"m":2,"n":-1,"o":1,"p":-1,"q":2,"r":-1,"s":2},
{"t":756,"a":-1,"b":1,"c":-1,"d":1,"e":-1,"f":1,"g":-2,"h":1,"i":-1,"j":1,"k":-1,"l":2,"m":-1,"n":1,"o":-1,"p":1,"q":-1,"r":1,"s":-1},
{"t":764,"a":1,"b":-2,"c":1,"d":-1,"e":2,"f":-1,"g":1,"h":-1,"i":2,"j":-1,"k":1,"l":-1,"m":1,"n":-2,"o":1,"p":-1,"q":1,"r":-2,"s":1},
{"t":772,"a":-1,"b":1,"c":-1,"d":1,"e":-1,"f":2,"g":-1,"h":1,"i":-1,"j":1,"k":-1,"l":1,"m":-1,"n":1,"o":-1,"p":2,"q":-1,"r":1,"s":-1},
{"t":780,"a":1,"b":-1,"c":1,"d":-1,"e":1,"f":-1,"g":1,"h":-2,"i":1,"j":-2,"k":1,"l":-1,"m":2,"n":-1,"o":1,"p":-1,"q":1,"r":-1,"s":2},
{"t":788,"a":-1,"b":1,"c":-1,"d":1,"e":-1,"f":1,"g":-1,"h":1,"i":-1,"j":1,"k":-2,"l":1,"m":-1,"n":1,"o":-1,"p":1,"q":-2,"r":1,"s":-1},
{"t":796,"a":1,"b":-1,"c":1,"d":-1,"e":1,"f":-1,"g":1,"h":-1,"i":1,"j":-1,"k":1,"l":-1,"m":1,"n":-1,"o":1,"p":-1,"q":1,"r":-1,"s":1},
{"t":135,"q":-7},
{"t":333,"d":8},
{"t":334,"e":-8,"f":-23,"n":6},
{"t":335,"d":-19,"h":-21,"p":-19},
{"t":337,"a":4,"e":5,"n":-13},
{"t":338,"f":5,"h":6,"p":8},
{"t":339,"a":-28,"b":-15},
{"t":341,"q":-8},
{"t":342,"b":8},
{"t":345,"a":-14,"p":-12},
{"t":354,"c":-6},
{"t":355,"r":5},
{"t":357,"b":-8,"e":-12,"r":-8},
{"t":358,"m":6,"n":7},
{"t":359,"h":-11,"k":6,"p":5,"q":-33},
{"t":361,"d":-21,"n":-13},
{"t":362,"g":5,"i":-18,"q":8},
{"t":363,"b":5,"d":8,"f":-21},
{"t":366,"a":6,"b":-32,"f":8},
{"t":367,"g":-6},
{"t":369,"b":8},
{"t":371,"c":9,"l":-18},
{"t":373,"e":5,"l":6},
{"t":374,"c":-21,"j":6},
{"t":375,"d":-8,"e":-6},
{"t":377,"a":-7,"b":-7,"h":-8,"i":-20,"m":-18,"o":-10,"q":-9},
{"t":379,"s":-15},
{"t":385,"g":6},
{"t":387,"b":-12,"m":-6,"o":4,"q":4},
{"t":389,"b":5},
{"t":390,"d":8},
{"t":391,"c":-10,"h":-9,"i":-10,"k":-23},
{"t":394,"c":5,"r":-13},
{"t":399,"h":-9,"s":-18},
{"t":402,"o":-6,"p":-14,"s":8},
{"t":405,"n":-8},
{"t":407,"p":6},
{"t":415,"d":-24,"e":-16},
{"t":418,"d":8,"e":6},
{"t":419,"c":-12},
{"t":422,"b":-25,"c":5,"h":-8,"j":-21,"p":-19,"s":6},
{"t":423,"l":-21,"m":-7},
{"t":425,"b":6,"j":5,"p":8,"s":-12},
{"t":426,"l":7},
{"t":427,"m":5},
{"t":431,"a":5},
{"t":433,"a":-14},
{"t":434,"h":-18,"i":-7},
{"t":437,"a":5,"h":6},
{"t":439,"p":-9},
{"t":445,"g":-21},
{"t":447,"g":7},
{"t":449,"n":-11},
{"t":450,"d":-21},
{"t":451,"k":-21},
{"t":453,"d":8,"k":4},
{"t":454,"r":-13,"s":-16},
{"t":455,"h":-7,"l":-13},
{"t":457,"s":8},
{"t":459,"b":-10},
{"t":462,"b":6,"j":-14},
{"t":463,"f":-11},
{"t":471,"d":-21},
{"t":474,"d":9},
{"t":475,"a":-9,"k":-16,"s":-11},
{"t":487,"p":-14},
{"t":493,"c":4},
{"t":497,"d":-16,"g":-17},
{"t":499,"d":5,"i":-6,"r":4},
{"t":502,"f":5},
{"t":505,"b":-23,"k":-18},
{"t":507,"b":8},
{"t":511,"s":-6},
{"t":515,"l":5},
{"t":523,"d":-19,"k":-11},
{"t":525,"n":5},
{"t":526,"d":9},
{"t":527,"o":-6,"r":-10},
{"t":529,"i":4},
{"t":530,"j":-10},
{"t":534,"a":5,"b":-7},
{"t":537,"b":6},
{"t":542,"d":-19,"p":-10},
{"t":545,"d":8},
{"t":553,"b":-7},
{"t":567,"p":-10},
{"t":570,"h":-8},
{"t":575,"m":5},
{"t":577,"d":-16,"m":-6},
{"t":578,"k":5},
{"t":579,"d":5,"g":-15},
{"t":585,"r":-9},
{"t":595,"f":-6},
{"t":605,"i":-15},
{"t":611,"k":-11},
{"t":617,"h":-8},
{"t":630,"d":7},
{"t":634,"l":4},
{"t":642,"a":-6},
{"t":667,"e":4},
{"t":679,"i":-10,"k":-10},
{"t":703,"d":-18},
{"t":706,"d":7},
{"t":710,"i":-12},
{"t":714,"o":-6},
{"t":715,"a":-6},
{"t":717,"n":-9},
{"t":719,"n":5},
{"t":747,"a":5,"k":-13},
{"t":749,"a":-7,"g":-5},
{"t":750,"d":-16},
{"t":753,"d":8},
{"t":765,"k":-9},
{"t":783,"d":-11},
{"t":786,"d":5},
{"t":791,"r":-11}
]},
"transform":[
{"fold":["a","b","c","d","e","f","g","h","i","j","k","l","m","n","o","p","q","r","s"],"as":["ch","v"]},
{"filter":"isValid(datum.v)"}
],
"mark":{"type":"line","color":"#23a0de","strokeWidth":2.4,"strokeJoin":"round","clip":false},
"encoding":{
"x":{"field":"t","type":"quantitative","scale":{"domain":[0,800]},"axis":null},
"y":{"field":"ch","type":"nominal","scale":{"type":"point","domain":["a","b","c","d","e","f","g","h","i","j","k","l","m","n","o","p","q","r","s"],"range":[22,786],"padding":0},"axis":null},
"yOffset":{"field":"v","type":"quantitative","scale":{"domain":[-20,20],"range":[20,-20]}},
"detail":{"field":"ch"},
"order":{"field":"t","type":"quantitative"}
}},
{"data":{"values":[{"t0":351.5,"t1":379,"kind":"box"}]},
"mark":{"type":"rect","fill":"#ff3060","fillOpacity":0.06,"stroke":"#ff2000","strokeWidth":6},
"encoding":{"x":{"field":"t0","type":"quantitative"},"x2":{"field":"t1"}}}
]
}
